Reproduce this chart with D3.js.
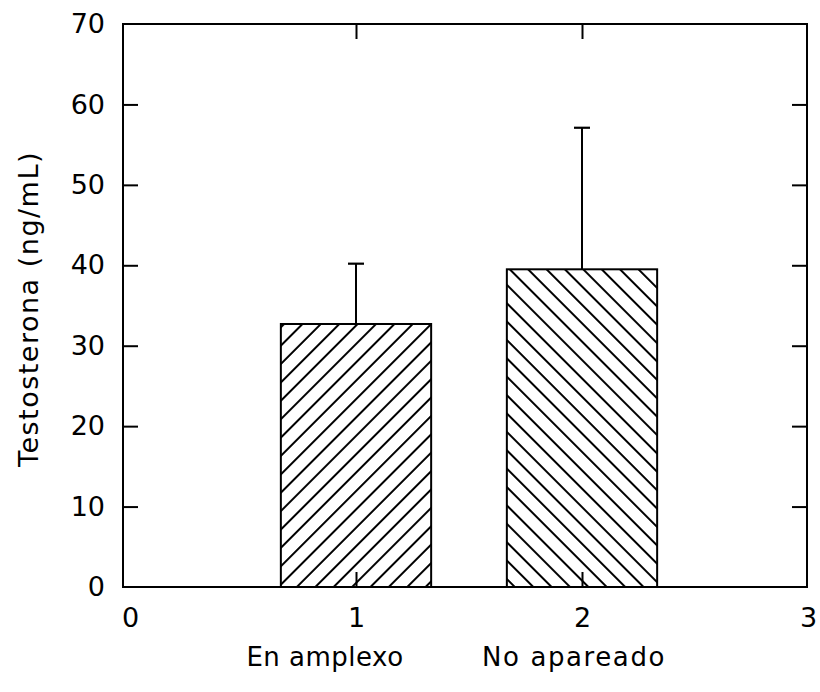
<!DOCTYPE html>
<html>
<head>
<meta charset="utf-8">
<script src="https://cdn.jsdelivr.net/npm/d3@7"></script>
<style>
  html, body { margin: 0; padding: 0; background: #fff; }
  svg { display: block; }
  text { font-family: "DejaVu Sans", sans-serif; fill: #000; }
</style>
</head>
<body>
<script>
// ---- data ----
const categories = ["En amplexo", "No apareado"];
const positions = [1, 2];
const means = [32.7, 39.5];
const errors = [7.5, 17.6];
const hatchAngles = [45, -45];
const yTicks = [0, 10, 20, 30, 40, 50, 60, 70];
const xTicks = [0, 1, 2, 3];

const W = 820, H = 692;
const frame = { left: 123, right: 807, top: 24, bottom: 587 };

const svg = d3.select("body").append("svg")
  .attr("width", W).attr("height", H);

const x = d3.scaleLinear().domain([0, 3]).range([130, 808]);
const y = d3.scaleLinear().domain([0, 70]).range([frame.bottom, frame.top]);

const barW = x(0.665) - x(0);

// hatch patterns
const defs = svg.append("defs");
hatchAngles.forEach((a, i) => {
  const s = 13;
  const p = defs.append("pattern")
    .attr("id", "hatch" + i)
    .attr("patternUnits", "userSpaceOnUse")
    .attr("width", s).attr("height", s)
    .attr("patternTransform", `rotate(${a})`);
  p.append("line")
    .attr("x1", 1).attr("y1", -1).attr("x2", 1).attr("y2", s + 1)
    .attr("stroke", "#000").attr("stroke-width", 2);
});

// error bars
const eb = svg.append("g");
positions.forEach((p, i) => {
  const cx = x(p);
  eb.append("line")
    .attr("x1", cx).attr("x2", cx)
    .attr("y1", y(means[i])).attr("y2", y(means[i] + errors[i]))
    .attr("stroke", "#000").attr("stroke-width", 2);
  eb.append("line")
    .attr("x1", cx - 8).attr("x2", cx + 8)
    .attr("y1", y(means[i] + errors[i])).attr("y2", y(means[i] + errors[i]))
    .attr("stroke", "#000").attr("stroke-width", 2.2);
});

// bars
svg.append("g").selectAll("rect")
  .data(means)
  .join("rect")
  .attr("x", (d, i) => x(positions[i]) - barW / 2)
  .attr("y", d => y(d))
  .attr("width", barW)
  .attr("height", d => y(0) - y(d))
  .attr("fill", (d, i) => `url(#hatch${i})`)
  .attr("stroke", "#000")
  .attr("stroke-width", 2);

// frame
svg.append("rect")
  .attr("x", frame.left).attr("y", frame.top)
  .attr("width", frame.right - frame.left)
  .attr("height", frame.bottom - frame.top)
  .attr("fill", "none").attr("stroke", "#000").attr("stroke-width", 2);

const tickLen = 15;
const yAxisL = d3.axisLeft(y).tickValues(yTicks).tickSize(-tickLen).tickPadding(18)
  .tickFormat(d3.format("d"));
const gL = svg.append("g").attr("transform", `translate(${frame.left},0)`).call(yAxisL);
const yAxisR = d3.axisRight(y).tickValues(yTicks.slice(1, -1)).tickSize(-tickLen).tickFormat("");
const gR = svg.append("g").attr("transform", `translate(${frame.right},0)`).call(yAxisR);
const xAxisB = d3.axisBottom(x).tickValues(xTicks).tickSize(-tickLen).tickPadding(21)
  .tickFormat(d3.format("d"));
const gB = svg.append("g").attr("transform", `translate(0,${frame.bottom})`).call(xAxisB);
const xAxisT = d3.axisTop(x).tickValues([1, 2]).tickSize(-tickLen).tickFormat("");
const gT = svg.append("g").attr("transform", `translate(0,${frame.top})`).call(xAxisT);

[gL, gR, gB, gT].forEach(g => {
  g.select(".domain").remove();
  g.selectAll(".tick line").attr("stroke", "#000").attr("stroke-width", 2);
  g.selectAll("text").style("font-size", "27px").attr("fill", "#000");
});
gB.selectAll(".tick").filter(d => d === 0 || d === 3).select("line").remove();
gL.selectAll(".tick").filter(d => d === 0 || d === 70).select("line").remove();

// category labels
svg.append("g").selectAll("text")
  .data(categories)
  .join("text")
  .attr("x", (d, i) => x(positions[i]) - (i === 0 ? 31 : 8))
  .attr("y", 666)
  .attr("text-anchor", "middle")
  .style("font-size", "26px")
  .style("letter-spacing", (d, i) => i === 0 ? "0.5px" : "1.6px")
  .text(d => d);

// y title
svg.append("text")
  .attr("transform", `translate(38,309) rotate(-90)`)
  .attr("text-anchor", "middle")
  .style("font-size", "27px")
  .style("letter-spacing", "1.5px")
  .text("Testosterona (ng/mL)");
</script>
</body>
</html>
